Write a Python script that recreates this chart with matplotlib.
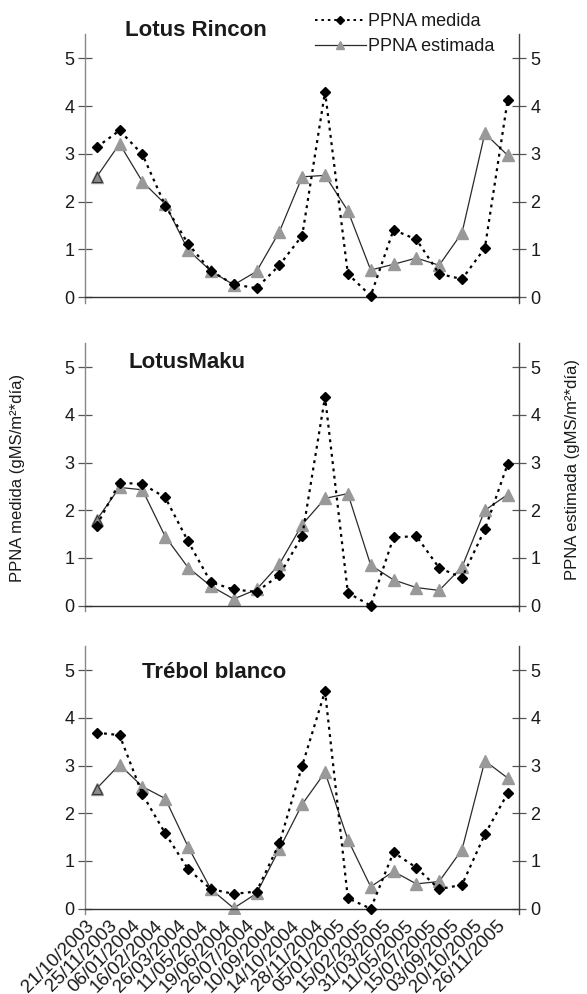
import matplotlib
matplotlib.use("Agg")
import matplotlib.pyplot as plt
import matplotlib.transforms as mtransforms
from matplotlib import font_manager
from matplotlib.lines import Line2D

names = {f.name for f in font_manager.fontManager.ttflist}
FONT = "Liberation Sans Narrow" if "Liberation Sans Narrow" in names else "Liberation Sans"
plt.rcParams["font.family"] = [FONT, "DejaVu Sans"]

dates = ["21/10/2003", "25/11/2003", "06/01/2004", "16/02/2004", "26/03/2004",
         "11/05/2004", "19/06/2004", "26/07/2004", "10/09/2004", "14/10/2004",
         "28/11/2004", "05/01/2005", "15/02/2005", "31/03/2005", "11/05/2005",
         "15/07/2005", "03/09/2005", "20/10/2005", "26/11/2005"]

titles = ["Lotus Rincon", "LotusMaku", "Trébol blanco"]

rincon_medida = [3.14, 3.49, 2.99, 1.92, 1.12, 0.55, 0.27, 0.19, 0.67, 1.29,
                 4.30, 0.49, 0.03, 1.41, 1.21, 0.49, 0.38, 1.03, 4.13]
rincon_estimada = [2.52, 3.21, 2.42, 1.95, 0.99, 0.55, 0.26, 0.54, 1.37, 2.52,
                   2.55, 1.81, 0.57, 0.69, 0.82, 0.67, 1.35, 3.43, 2.97]

maku_medida = [1.68, 2.58, 2.55, 2.27, 1.35, 0.49, 0.34, 0.29, 0.64, 1.46,
               4.38, 0.27, 0.00, 1.43, 1.46, 0.79, 0.59, 1.60, 2.97]
maku_estimada = [1.80, 2.48, 2.43, 1.45, 0.80, 0.41, 0.14, 0.34, 0.87, 1.70,
                 2.25, 2.35, 0.85, 0.54, 0.38, 0.32, 0.81, 2.00, 2.33]

trebol_medida = [3.69, 3.64, 2.40, 1.58, 0.83, 0.41, 0.31, 0.36, 1.37, 3.00,
                 4.56, 0.22, 0.00, 1.18, 0.86, 0.41, 0.50, 1.56, 2.42]
trebol_estimada = [2.52, 3.02, 2.56, 2.31, 1.30, 0.41, 0.01, 0.32, 1.25, 2.19,
                   2.86, 1.45, 0.46, 0.78, 0.52, 0.57, 1.24, 3.10, 2.74]

medida = [rincon_medida, maku_medida, trebol_medida]
estimada = [rincon_estimada, maku_estimada, trebol_estimada]

W, H = 587, 994
fig = plt.figure(figsize=(W / 100, H / 100), dpi=100)

# (bottom px, top px) of each axes box
boxes = [(303.0, 34.4), (611.4, 343.4), (914.4, 646.4)]
left_px, width_px = 85.3, 433.8
title_pos = [(125, 30), (128, 363), (142, 673)]

TXT = "#1a1a1a"
x = list(range(len(dates)))
axes = []
for i, (b, t) in enumerate(boxes):
    ax = fig.add_axes([left_px / W, 1 - b / H, width_px / W, (b - t) / H])
    axes.append(ax)
    ax.plot(x, medida[i], linestyle=(0, (1.3, 2.0)), color="black", lw=1.6,
            marker="D", ms=5.5, mfc="black", mec="black", zorder=3)
    ax.plot(x, estimada[i], linestyle="-", color="#2a2a2a", lw=0.9,
            marker="^", ms=8, mfc="#999999", mec="#999999", zorder=2)
    ax.plot(x[:1], estimada[i][:1], linestyle="none", marker="^", ms=7.5,
            mfc="#8a8a8a", mec="#333333", mew=0.8, zorder=2.5)
    ax.set_xlim(-0.5, len(dates) - 0.5)
    ax.set_ylim(-0.12, 5.5)
    ax.set_yticks([0, 1, 2, 3, 4, 5])
    ax.set_yticklabels(["0", "1", "2", "3", "4", "5"])
    ax.spines["top"].set_visible(False)
    ax.spines["bottom"].set_position(("data", 0))
    ax.spines["bottom"].set_color("#333333")
    ax.spines["left"].set_color("#888888")
    ax.spines["right"].set_color("#444444")
    for s in ("left", "right", "bottom"):
        ax.spines[s].set_linewidth(1.0)
    ax.tick_params(axis="y", which="both", direction="inout", length=10,
                   width=0.9, labelsize=13, left=True,
                   right=True, labelleft=True, labelright=True, pad=3,
                   colors="#555555", labelcolor=TXT)
    ax.set_xticks(x)
    ax.tick_params(axis="x", length=0)
    if i < 2:
        ax.set_xticklabels([])
    else:
        ax.set_xticklabels(dates, rotation=45, ha="right", va="center",
                           rotation_mode="anchor", fontsize=13.5, color=TXT)
        ax.tick_params(axis="x", pad=9)
        off = mtransforms.ScaledTranslation(-5 / 100, -2 / 100, fig.dpi_scale_trans)
        for lab in ax.get_xticklabels():
            lab.set_transform(lab.get_transform() + off)
    fig.text(title_pos[i][0] / W, 1 - title_pos[i][1] / H, titles[i],
             fontsize=16, fontweight="bold", color=TXT, ha="left", va="center")

handles = [
    Line2D([], [], linestyle=(0, (1.3, 2.0)), color="black", lw=1.4,
           marker="D", ms=4, mfc="black", mec="black"),
    Line2D([], [], linestyle="-", color="#2a2a2a", lw=0.9,
           marker="^", ms=6, mfc="#999999", mec="#999999"),
]
fig.legend(handles, ["PPNA medida", "PPNA estimada"], loc="upper left",
           bbox_to_anchor=(315 / W, 1 - 13 / H), frameon=False, fontsize=13,
           handlelength=2.8, handletextpad=0.15, labelspacing=0.45,
           borderpad=0, borderaxespad=0, labelcolor=TXT)

fig.text(18 / W, 1 - 478 / H, "PPNA medida (gMS/m²*día)", rotation=90,
         ha="center", va="center", fontsize=12, color=TXT)
fig.text(572 / W, 1 - 470 / H, "PPNA estimada (gMS/m²*día)", rotation=90,
         ha="center", va="center", fontsize=12, color=TXT)

fig.savefig("out.png", dpi=100)
